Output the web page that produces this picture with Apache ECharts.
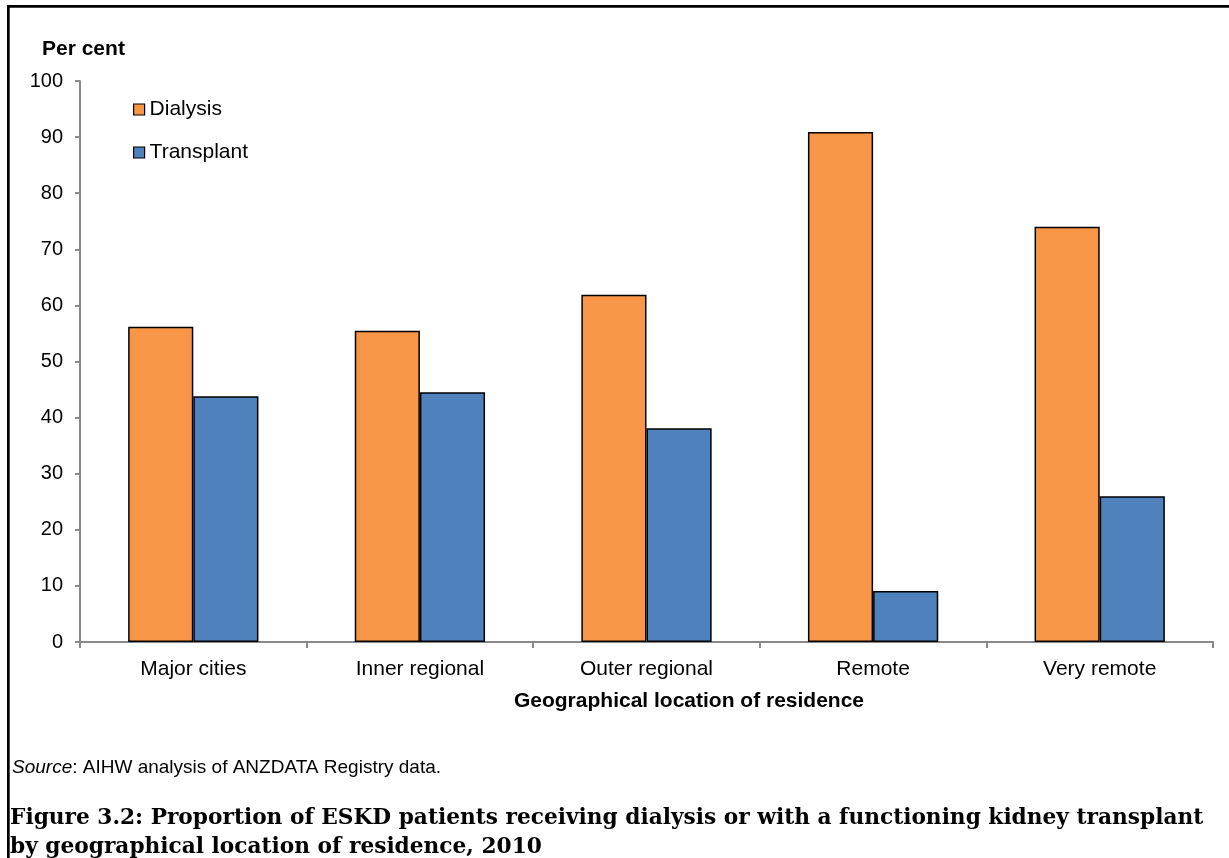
<!DOCTYPE html>
<html>
<head>
<meta charset="utf-8">
<script src="https://cdn.jsdelivr.net/npm/echarts@6/dist/echarts.min.js"></script>
<style>
  html, body { margin: 0; padding: 0; background: #fff; }
  #chart { width: 1229px; height: 858px; }
</style>
</head>
<body>
<div id="chart"></div>
<script>
// Share of ESKD patients on dialysis vs. with a functioning transplant, 2010
const categories = ['Major cities', 'Inner regional', 'Outer regional', 'Remote', 'Very remote'];
const dialysis = [56.2, 55.5, 61.9, 90.9, 74.0];
const transplant = [43.8, 44.5, 38.1, 9.1, 26.0];
const yTicks = { min: 0, max: 100, interval: 10 };

const sans = '"Liberation Sans", Arial, sans-serif';
const serif = '"DejaVu Serif", "Liberation Serif", serif';

const chart = echarts.init(document.getElementById('chart'), null, { renderer: 'canvas' });

chart.setOption({
  backgroundColor: '#ffffff',
  animation: false,
  textStyle: { fontFamily: sans },
  grid: { left: 80, right: 16, top: 81, bottom: 216, containLabel: false },
  legend: {
    orient: 'vertical',
    left: 133,
    top: 99,
    padding: 0,
    itemWidth: 11,
    itemHeight: 11,
    itemGap: 22,
    icon: 'rect',
    textStyle: { fontFamily: sans, fontSize: 21, color: '#000' },
    data: [
      { name: 'Dialysis', itemStyle: { color: '#F79646', borderColor: '#000', borderWidth: 1.2 } },
      { name: 'Transplant', itemStyle: { color: '#4F81BD', borderColor: '#000', borderWidth: 1.2 } }
    ]
  },
  xAxis: {
    type: 'category',
    data: categories,
    axisLine: { lineStyle: { color: '#898989', width: 2 } },
    axisTick: { show: true, alignWithLabel: false, length: 6, lineStyle: { color: '#898989', width: 2 } },
    axisLabel: { fontFamily: sans, fontSize: 21, color: '#000', margin: 17 }
  },
  yAxis: {
    type: 'value',
    min: yTicks.min,
    max: yTicks.max,
    interval: yTicks.interval,
    axisLine: { show: true, lineStyle: { color: '#898989', width: 2 } },
    axisTick: { show: true, length: 5, lineStyle: { color: '#898989', width: 2 } },
    splitLine: { show: false },
    axisLabel: { fontFamily: sans, fontSize: 20, color: '#000', margin: 17 }
  },
  series: [
    {
      name: 'Dialysis',
      type: 'bar',
      data: dialysis,
      barGap: '0%',
      barCategoryGap: '42.5%',
      itemStyle: { color: '#F79646', borderColor: '#000', borderWidth: 1.5 }
    },
    {
      name: 'Transplant',
      type: 'bar',
      data: transplant,
      itemStyle: { color: '#4F81BD', borderColor: '#000', borderWidth: 1.5 }
    }
  ],
  graphic: [
    // frame: top and left rules
    { type: 'rect', shape: { x: 7, y: 5, width: 1222, height: 2.7 }, style: { fill: '#000' } },
    { type: 'rect', shape: { x: 7, y: 5, width: 2.7, height: 853 }, style: { fill: '#000' } },
    {
      type: 'text', left: 42, top: 39,
      style: { text: 'Per cent', font: 'bold 21px ' + sans, fill: '#000' }
    },
    // x-axis title
    {
      type: 'text', x: 689, y: 701,
      style: {
        text: 'Geographical location of residence',
        font: 'bold 21px ' + sans, fill: '#000',
        align: 'center', verticalAlign: 'middle'
      }
    },
    {
      type: 'text', left: 12, top: 758,
      style: {
        text: '{i|Source}: AIHW analysis of ANZDATA Registry data.',
        rich: {
          i: { fontFamily: sans, fontSize: 19, fontStyle: 'italic', fill: '#000' }
        },
        font: '19px ' + sans, fill: '#000'
      }
    },
    {
      type: 'text', left: 10, top: 804,
      style: {
        text: 'Figure 3.2: Proportion of ESKD patients receiving dialysis or with a functioning kidney transplant\nby geographical location of residence, 2010',
        font: 'bold 21.7px ' + serif, fill: '#000', lineHeight: 29
      }
    }
  ]
});
</script>
</body>
</html>
